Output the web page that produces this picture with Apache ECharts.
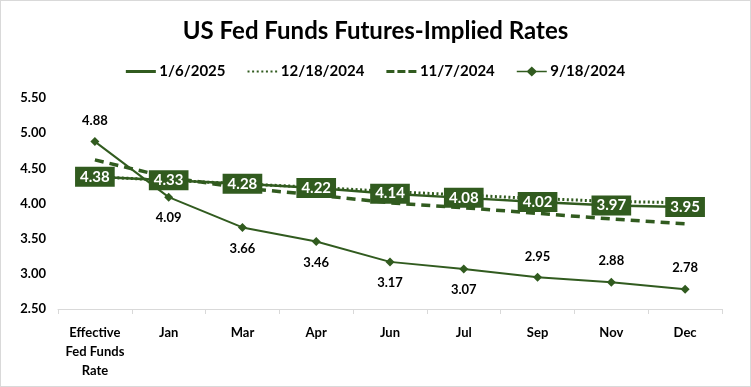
<!DOCTYPE html>
<html><head><meta charset="utf-8">
<script src="https://cdn.jsdelivr.net/npm/echarts@6/dist/echarts.min.js"></script>
<style>html,body{margin:0;padding:0;background:#fff}
#c{width:751px;height:387px;box-sizing:border-box;border:1px solid #d9d9d9}</style>
</head><body><div id="c"></div>
<script>
const categories = ['Effective\nFed Funds\nRate','Jan','Mar','Apr','Jun','Jul','Sep','Nov','Dec'];
const s20250106 = [4.38,4.33,4.28,4.22,4.14,4.08,4.02,3.97,3.95];
const s20241218 = [4.38,4.33,4.28,4.23,4.17,4.12,4.07,4.03,4.01];
const s20241107 = [4.62,4.37,4.22,4.12,4.01,3.94,3.86,3.78,3.71];
const s20240918 = [4.88,4.09,3.66,3.46,3.17,3.07,2.95,2.88,2.78];
const labelAbove0918 = [true,false,false,false,false,false,true,true,true];
const yTicks = {min:2.5,max:5.5,interval:0.5};

const G = '#315b1f';
const F = 'Lato, "Open Sans", sans-serif';
const icons = {
  solid:'path://M0,3.5H30V6.5H0Z M0,0H0.01V0.01H0Z M0,10H0.01V9.99H0Z',
  dotted:'path://M0,4H2V6H0Z M4.6,4H6.6V6H4.6Z M9.2,4H11.2V6H9.2Z M13.8,4H15.8V6H13.8Z M18.4,4H20.4V6H18.4Z M23,4H25V6H23Z M27.6,4H29.6V6H27.6Z M0,0H0.01V0.01H0Z M0,10H0.01V9.99H0Z',
  dashed:'path://M0,3.5H8V6.5H0Z M11,3.5H19V6.5H11Z M22,3.5H30V6.5H22Z M0,0H0.01V0.01H0Z M0,10H0.01V9.99H0Z',
  diamond:'path://M0,4.2H10.5L15,0L19.5,4.2H30V5.8H19.5L15,10L10.5,5.8H0Z'
};
const chart = echarts.init(document.getElementById('c'));
chart.setOption({
  animation:false,
  title:{text:'US Fed Funds Futures-Implied Rates',left:'center',top:13,
    textStyle:{fontFamily:F,fontWeight:'bold',fontSize:24,color:'#000'}},
  legend:{top:58,left:'center',itemWidth:33,itemHeight:10,itemGap:22,
    textStyle:{fontFamily:F,fontWeight:'bold',fontSize:15,color:'#000',padding:[0,0,0,-3]},
    data:[
      {name:'1/6/2025',icon:icons.solid,itemStyle:{color:G}},
      {name:'12/18/2024',icon:icons.dotted,itemStyle:{color:G}},
      {name:'11/7/2024',icon:icons.dashed,itemStyle:{color:G}},
      {name:'9/18/2024',icon:icons.diamond,itemStyle:{color:G}}
    ]},
  grid:{left:57,right:28,top:97,bottom:77},
  xAxis:{type:'category',data:categories,boundaryGap:true,
    axisLine:{lineStyle:{color:'#d9d9d9',width:1}},
    axisTick:{show:true,length:5,lineStyle:{color:'#d9d9d9'}},
    axisLabel:{interval:0,fontFamily:F,fontWeight:'bold',fontSize:13,color:'#000',margin:14,lineHeight:19}},
  yAxis:{type:'value',min:yTicks.min,max:yTicks.max,interval:yTicks.interval,
    splitLine:{show:false},axisLine:{show:false},axisTick:{show:false},
    axisLabel:{fontFamily:F,fontWeight:'bold',fontSize:13,color:'#000',margin:12,
      formatter:v=>v.toFixed(2)}},
  series:[
    {name:'9/18/2024',type:'line',data:s20240918.map((v,i)=>({value:v,label:{position:labelAbove0918[i]?'top':'bottom',distance:10}})),
      symbol:'diamond',symbolSize:9,itemStyle:{color:G},lineStyle:{color:G,width:2},z:2,
      label:{show:true,fontFamily:F,fontWeight:'bold',fontSize:13,color:'#000',formatter:p=>p.value.toFixed(2)}},
    {name:'11/7/2024',type:'line',data:s20241107,symbol:'none',itemStyle:{color:G},
      lineStyle:{color:G,width:3.5,type:[9,6]},z:3},
    {name:'12/18/2024',type:'line',data:s20241218,symbol:'none',itemStyle:{color:G},
      lineStyle:{color:G,width:3,type:[2,2.5]},z:3},
    {name:'1/6/2025',type:'line',data:s20250106,symbol:'circle',symbolSize:1,showSymbol:true,itemStyle:{color:G},
      lineStyle:{color:G,width:2.5},z:4,
      label:{show:true,position:'inside',fontFamily:F,fontWeight:'bold',fontSize:15,color:'#fff',
        backgroundColor:G,padding:[3,5,2,5],formatter:p=>p.value.toFixed(2)},
      labelLayout:{hideOverlap:false}}
  ]
});
</script></body></html>
